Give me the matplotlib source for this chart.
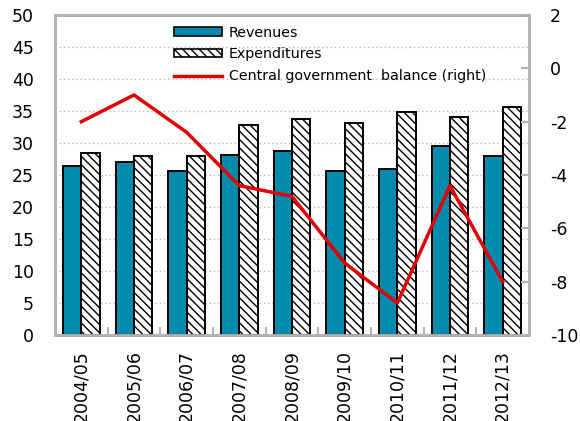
import matplotlib
matplotlib.use("Agg")
import matplotlib.pyplot as plt
import numpy as np
from matplotlib.lines import Line2D
from matplotlib.patches import Patch

# --- data -----------------------------------------------------------------
years = ["2004/05", "2005/06", "2006/07", "2007/08", "2008/09",
         "2009/10", "2010/11", "2011/12", "2012/13"]
revenues = [26.4, 27.0, 25.6, 28.2, 28.8, 25.6, 25.9, 29.6, 27.9]
expenditures = [28.5, 28.0, 28.0, 32.8, 33.7, 33.1, 34.8, 34.0, 35.6]
balance = [-2.0, -1.0, -2.4, -4.4, -4.8, -7.3, -8.8, -4.4, -8.0]

TEAL = "#008bad"
RED = "#e00000"
SPINE = "#b4b4b4"
GRID = "#b8b8b8"

plt.rcParams.update({"font.family": "DejaVu Sans", "font.size": 12.5,
                     "axes.unicode_minus": False,
                     "hatch.color": "#505050", "hatch.linewidth": 1.0})

fig = plt.figure(figsize=(5.8, 4.21), dpi=100)
ax = fig.add_axes([55 / 580, 1 - 335 / 421, 474 / 580, 320 / 421])
ax2 = ax.twinx()

x = np.arange(len(years))
w = 0.35
ax.bar(x - w / 2, revenues, w, color=TEAL, edgecolor="black", lw=1.4, zorder=3)
ax.bar(x + w / 2, expenditures, w, color="white", edgecolor="black", lw=1.4,
       hatch="\\\\\\\\", zorder=3)
ax2.plot(x, balance, color=RED, lw=2.5, zorder=4)

ax.set_xlim(-0.5, len(years) - 0.5)
ax.set_ylim(0, 50)
ax.set_yticks(range(0, 51, 5))
ax2.set_ylim(-10, 2)
ax2.set_yticks(range(-10, 3, 2))

ax.set_xticks(x)
ax.set_xticklabels(years, rotation=90)
ax.set_xticks(np.arange(0.5, len(years) - 1, 1), minor=True)
ax.tick_params(axis="x", which="major", length=0, pad=11)
ax.tick_params(axis="x", which="minor", direction="in", length=6,
               color=SPINE, width=1.5)
ax.tick_params(axis="y", length=0, pad=15)
ax2.tick_params(axis="y", direction="in", length=6, color=SPINE,
                width=1.5, pad=15)

for y in range(5, 50, 5):
    ax.axhline(y, color=GRID, lw=1, ls=(0, (1, 2)), zorder=1)

for a in (ax, ax2):
    for s in a.spines.values():
        s.set_color(SPINE)
        s.set_linewidth(2)

handles = [Patch(facecolor=TEAL, edgecolor="black", lw=1.2),
           Patch(facecolor="white", edgecolor="black", lw=1.2, hatch="\\\\\\\\"),
           Line2D([0], [0], color=RED, lw=2.5)]
labels = ["Revenues", "Expenditures", "Central government  balance (right)"]
ax2.legend(handles, labels, loc="upper left", bbox_to_anchor=(0.24, 0.985),
           frameon=False, handlelength=3.3, handleheight=0.5,
           handletextpad=0.5, labelspacing=0.55, fontsize=10.3,
           borderaxespad=0)

fig.savefig("out.png", dpi=100)
